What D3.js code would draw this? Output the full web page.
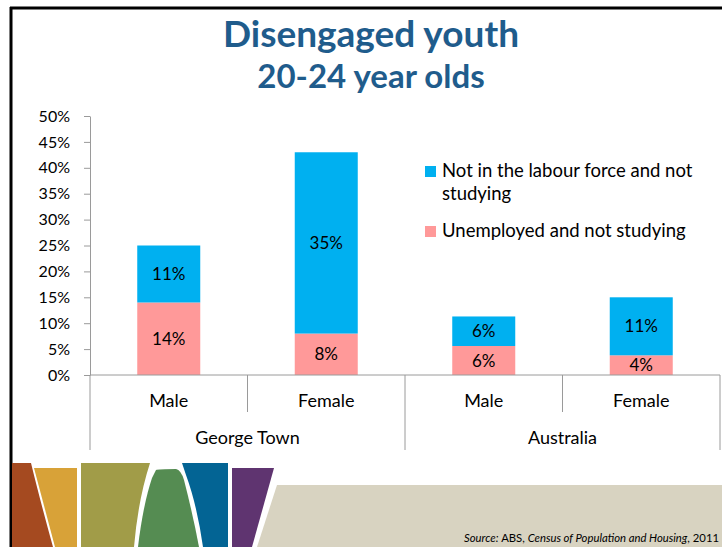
<!DOCTYPE html>
<html>
<head>
<meta charset="utf-8">
<script src="https://cdn.jsdelivr.net/npm/d3@7"></script>
<style>
  html, body { margin: 0; padding: 0; background: #fff; }
  svg { display: block; font-family: Lato, "Open Sans", sans-serif; }
</style>
</head>
<body>
<svg id="chart" width="722" height="547"></svg>
<script>
// Disengaged youth aged 20-24, by sex, George Town vs Australia (percent)
const categoryLabels = ["Male", "Female", "Male", "Female"];
const groupLabels = ["George Town", "Australia"];
const unemployedNotStudying = [14, 8, 5.6, 3.8];
const notInLabourForceNotStudying = [11, 35, 5.7, 11.2];
const seriesNames = ["Not in the labour force and not studying", "Unemployed and not studying"];
const seriesColors = ["#00B0F0", "#FF9999"];
const yTickValues = [0, 5, 10, 15, 20, 25, 30, 35, 40, 45, 50];

const svg = d3.select("#chart");
const W = 722, H = 547;
const axisColor = "#9a9a9a";

// Frame lines (top and left)
svg.append("line").attr("x1", 10).attr("x2", W).attr("y1", 8).attr("y2", 8)
  .attr("stroke", "#000").attr("stroke-width", 3);
svg.append("line").attr("x1", 11).attr("x2", 11).attr("y1", 7).attr("y2", H)
  .attr("stroke", "#000").attr("stroke-width", 3);

// Title
const titleColor = "#1F5C8C";
svg.append("text").attr("x", 371).attr("y", 47).attr("text-anchor", "middle")
  .attr("font-weight", 700).attr("font-size", 37).attr("fill", titleColor)
  .text("Disengaged youth");
svg.append("text").attr("x", 371).attr("y", 88).attr("text-anchor", "middle")
  .attr("font-weight", 700).attr("font-size", 33).attr("fill", titleColor)
  .text("20-24 year olds");

// Scales
const x = d3.scaleBand().domain(d3.range(categoryLabels.length)).range([90, 720]);
const y = d3.scaleLinear().domain([0, 50]).range([375, 116]);
const barWidth = x.bandwidth() * 0.4;

// Y axis
const yAxis = d3.axisLeft(y).tickValues(yTickValues).tickSize(6).tickSizeOuter(0)
  .tickPadding(14).tickFormat(d => d + "%");
const gy = svg.append("g").attr("transform", "translate(90,0)").call(yAxis);
gy.select(".domain").attr("stroke", axisColor);
gy.selectAll(".tick line").attr("stroke", axisColor);
gy.selectAll(".tick text").attr("font-family", "Lato, sans-serif")
  .attr("font-size", 16).attr("fill", "#000");

// Stacked bars
const stackData = categoryLabels.map((c, i) => ({
  i, unemployed: unemployedNotStudying[i], nilf: notInLabourForceNotStudying[i]
}));
const stack = d3.stack().keys(["unemployed", "nilf"]);
const layers = stack(stackData);
const layerColors = { unemployed: seriesColors[1], nilf: seriesColors[0] };

const layerG = svg.append("g").selectAll("g").data(layers).join("g")
  .attr("fill", d => layerColors[d.key]);
layerG.selectAll("rect").data(d => d).join("rect")
  .attr("x", d => x(d.data.i) + (x.bandwidth() - barWidth) / 2)
  .attr("width", barWidth)
  .attr("y", d => y(d[1]))
  .attr("height", d => y(d[0]) - y(d[1]));

// Value labels centred in each segment
layers.forEach(layer => {
  svg.append("g").selectAll("text").data(layer).join("text")
    .attr("x", d => x(d.data.i) + x.bandwidth() / 2)
    .attr("y", d => (y(d[0]) + y(d[1])) / 2)
    .attr("dy", "0.36em")
    .attr("text-anchor", "middle")
    .attr("font-size", 17).attr("fill", "#000")
    .text(d => Math.round(d[1] - d[0]) + "%");
});

// Category axis: baseline and dividers
svg.append("line").attr("x1", 90).attr("x2", 720).attr("y1", y(0)).attr("y2", y(0))
  .attr("stroke", axisColor);
const dividerX = d3.range(categoryLabels.length + 1).map(i => i < categoryLabels.length ? x(i) : x.range()[1]);
svg.append("g").selectAll("line").data(dividerX).join("line")
  .attr("x1", d => d).attr("x2", d => d)
  .attr("y1", y(0)).attr("y2", (d, i) => i % 2 === 0 ? 450 : 412)
  .attr("stroke", axisColor);

svg.append("g").selectAll("text").data(categoryLabels).join("text")
  .attr("x", (d, i) => x(i) + x.bandwidth() / 2)
  .attr("y", 401).attr("dy", "0.36em").attr("text-anchor", "middle")
  .attr("font-size", 18).attr("fill", "#000")
  .text(d => d);
svg.append("g").selectAll("text").data(groupLabels).join("text")
  .attr("x", (d, i) => x(i * 2) + x.bandwidth())
  .attr("y", 438).attr("dy", "0.36em").attr("text-anchor", "middle")
  .attr("font-size", 18).attr("fill", "#000")
  .text(d => d);

// Legend
const legend = svg.append("g").attr("transform", "translate(425,0)");
const legendRows = [
  { color: seriesColors[0], lines: ["Not in the labour force and not", "studying"], top: 166 },
  { color: seriesColors[1], lines: ["Unemployed and not studying"], top: 226 }
];
legendRows.forEach(r => {
  legend.append("rect").attr("x", 0).attr("y", r.top).attr("width", 11).attr("height", 11)
    .attr("fill", r.color);
  const t = legend.append("text").attr("x", 17).attr("y", r.top + 11)
    .attr("font-size", 18.5).attr("fill", "#000");
  r.lines.forEach((ln, k) => {
    t.append("tspan").attr("x", 17).attr("dy", k === 0 ? 0 : 23).text(ln);
  });
});

// Decorative footer bands
const footer = svg.append("g");
const footerShapes = [
  { fill: "#A54A20", d: "M12,463 L31,463 Q40,500 53,547 L12,547 Z" },
  { fill: "#D8A238", d: "M34,468 L77,468 L77,547 L55,547 Z" },
  { fill: "#A19C48", d: "M81,463 L150,463 Q138,500 134,547 L81,547 Z" },
  { fill: "#558C52", d: "M156,470 Q158,469 176,469 Q181,470 184,480 Q193,515 199,547 L138,547 Q143,505 152,478 Z" },
  { fill: "#036494", d: "M182,463 L228,463 L228,547 L203,547 Q197,505 186,475 Z" },
  { fill: "#5F3470", d: "M232,468 L274,468 L252,547 L232,547 Z" },
  { fill: "#D8D3C1", d: "M277,485 L722,485 L722,547 L257,547 Z" }
];
footer.selectAll("path").data(footerShapes).join("path")
  .attr("d", d => d.d).attr("fill", d => d.fill);

// Source note
const src = svg.append("text").attr("x", 719).attr("y", 542).attr("text-anchor", "end")
  .attr("font-size", 11.3).attr("fill", "#000");
src.append("tspan").attr("font-style", "italic").text("Source: ");
src.append("tspan").text("ABS, ");
src.append("tspan").attr("font-style", "italic").text("Census of Population and Housing");
src.append("tspan").text(", 2011");
</script>
</body>
</html>
